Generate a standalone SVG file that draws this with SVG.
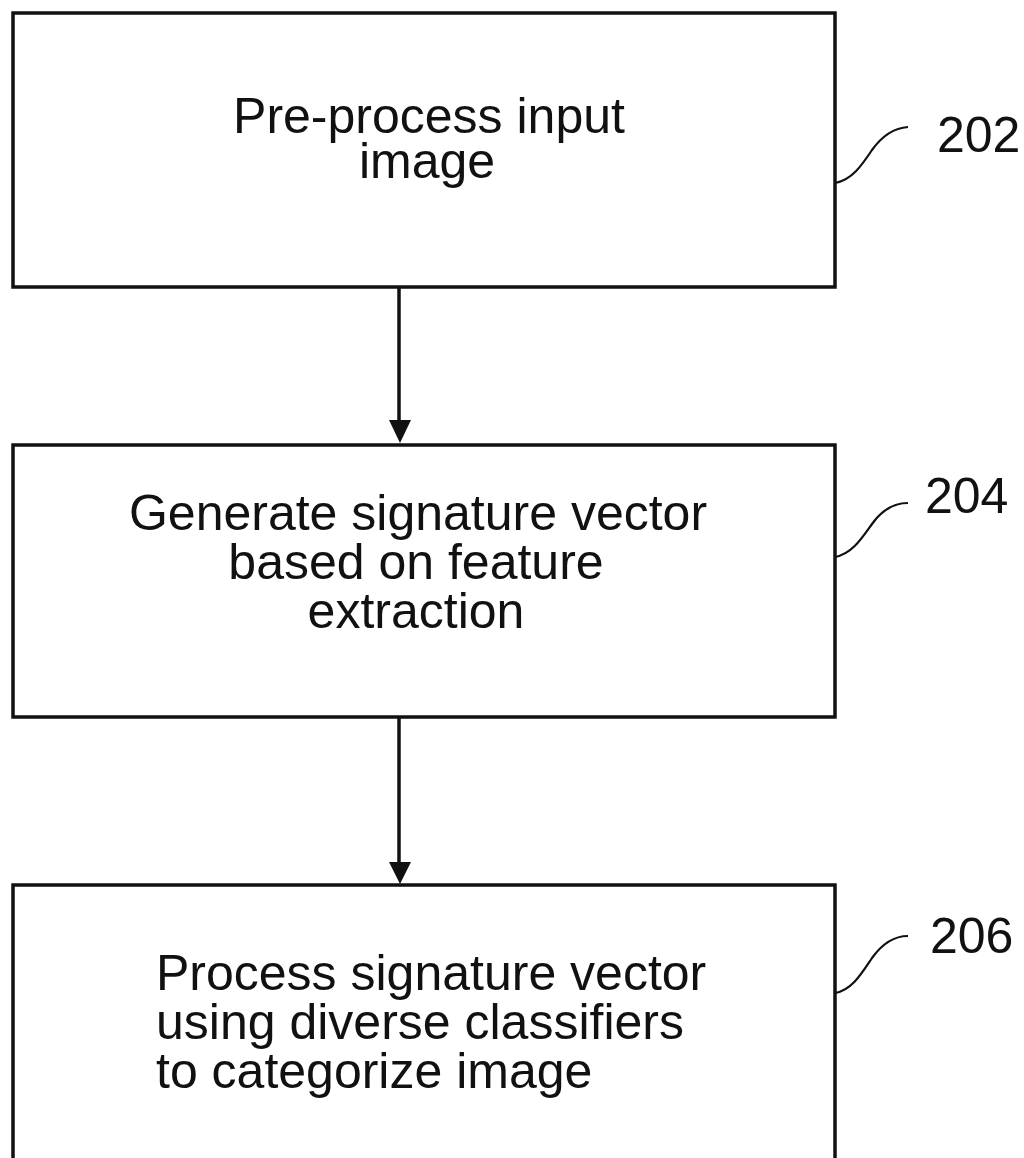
<svg xmlns="http://www.w3.org/2000/svg" width="1024" height="1158" viewBox="0 0 1024 1158">
  <style>
    .box { fill: #ffffff; stroke: #111111; stroke-width: 3.5; }
    .label { font-family: "Liberation Sans", Arial, sans-serif; font-size: 50px; fill: #111111; }
    .ref { font-family: "Liberation Sans", Arial, sans-serif; font-size: 50px; fill: #111111; }
    .leader { fill: none; stroke: #111111; stroke-width: 2.2; }
    .flow { stroke: #111111; stroke-width: 3.5; fill: none; }
  </style>
  <defs>
    <marker id="arrowhead" markerUnits="userSpaceOnUse" markerWidth="24" markerHeight="26" refX="11" refY="24" orient="auto-start-reverse" viewBox="0 0 22 26">
      <path d="M0,0 L22,0 L11,24 Z" fill="#111111" transform="rotate(0)"/>
    </marker>
  </defs>
  <rect width="1024" height="1158" fill="#ffffff"/>

  <!-- Step 202 -->
  <g id="step-202">
    <rect class="box" x="13" y="13" width="822" height="274"/>
    <text class="label" x="429" y="133" text-anchor="middle">Pre-process input</text>
    <text class="label" x="427" y="178" text-anchor="middle">image</text>
    <path class="leader" d="M835,183 C852,180 862,165 872,150 C882,136 893,128 908,127"/>
    <text class="ref" x="937" y="152">202</text>
  </g>

  <!-- Step 204 -->
  <g id="step-204">
    <rect class="box" x="13" y="445" width="822" height="272"/>
    <text class="label" x="418" y="530" text-anchor="middle">Generate signature vector</text>
    <text class="label" x="416" y="579" text-anchor="middle">based on feature</text>
    <text class="label" x="416" y="628" text-anchor="middle">extraction</text>
    <path class="leader" d="M835,557 C852,554 862,538 872,524 C882,510 893,503 908,503"/>
    <text class="ref" x="925" y="513">204</text>
  </g>

  <!-- Step 206 -->
  <g id="step-206">
    <rect class="box" x="13" y="885" width="822" height="290"/>
    <text class="label" x="156" y="990">Process signature vector</text>
    <text class="label" x="156" y="1039">using diverse classifiers</text>
    <text class="label" x="156" y="1088">to categorize image</text>
    <path class="leader" d="M835,993 C852,990 862,973 872,958 C882,944 893,936 908,936"/>
    <text class="ref" x="930" y="953">206</text>
  </g>

  <!-- Connectors -->
  <g id="connectors">
    <line class="flow" x1="399" y1="287" x2="399" y2="422"/>
    <path d="M389,420 L411,420 L400,443 Z" fill="#111111"/>
    <line class="flow" x1="399" y1="717" x2="399" y2="864"/>
    <path d="M389,862 L411,862 L400,884 Z" fill="#111111"/>
  </g>
</svg>
